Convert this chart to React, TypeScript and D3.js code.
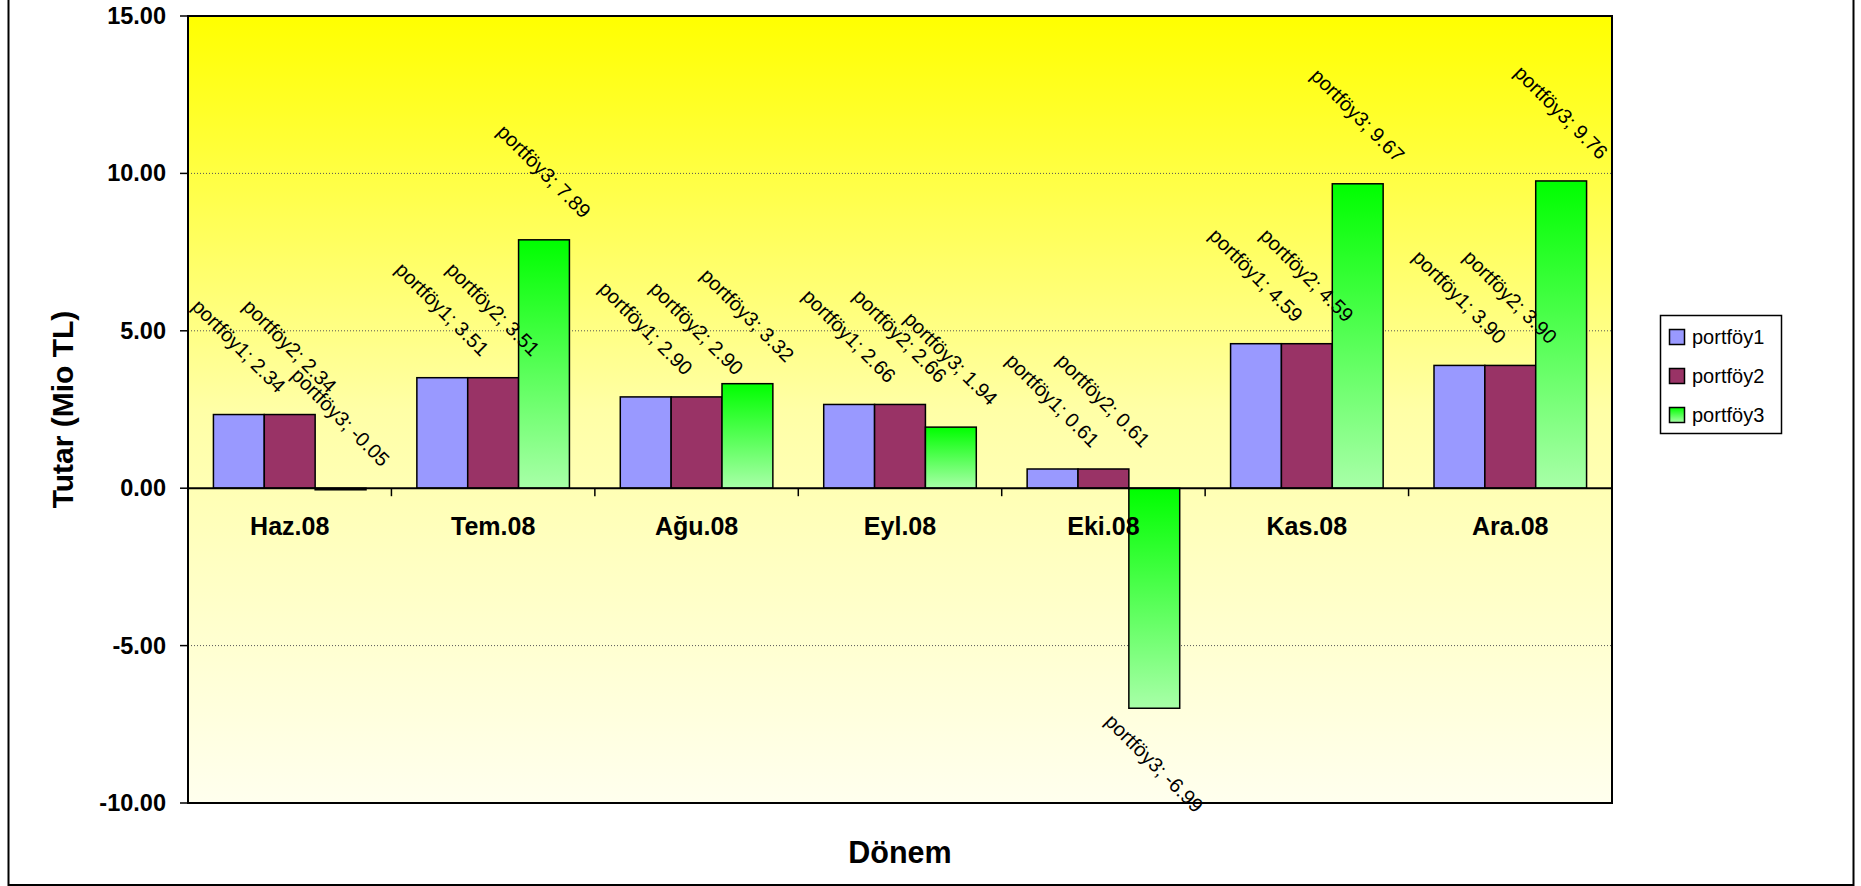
import React, { useEffect, useRef } from "react";
import * as d3 from "d3";

const categories = ["Haz.08", "Tem.08", "Ağu.08", "Eyl.08", "Eki.08", "Kas.08", "Ara.08"];
const seriesNames = ["portföy1", "portföy2", "portföy3"];
const portfoy1 = [2.34, 3.51, 2.9, 2.66, 0.61, 4.59, 3.9];
const portfoy2 = [2.34, 3.51, 2.9, 2.66, 0.61, 4.59, 3.9];
const portfoy3 = [-0.05, 7.89, 3.32, 1.94, -6.99, 9.67, 9.76];
const yTicks = [15, 10, 5, 0, -5, -10];

const W = 1861;
const H = 886;
const FONT = "'Liberation Sans', Arial, Helvetica, sans-serif";

export default function App() {
  const ref = useRef<SVGSVGElement | null>(null);

  useEffect(() => {
    const svg = d3.select(ref.current);
    svg.selectAll("*").remove();

    const plot = { left: 188, right: 1612, top: 16, bottom: 803 };
    const values = [portfoy1, portfoy2, portfoy3];
    const fills = ["#9999FF", "#993366", "url(#greenGrad)"];

    const defs = svg.append("defs");
    const bg = defs.append("linearGradient").attr("id", "bgGrad")
      .attr("x1", 0).attr("y1", 0).attr("x2", 0).attr("y2", 1);
    bg.append("stop").attr("offset", "0%").attr("stop-color", "#FFFF00");
    bg.append("stop").attr("offset", "50%").attr("stop-color", "#FFFFA6");
    bg.append("stop").attr("offset", "100%").attr("stop-color", "#FFFFEE");
    const gg = defs.append("linearGradient").attr("id", "greenGrad")
      .attr("x1", 0).attr("y1", 0).attr("x2", 0).attr("y2", 1);
    gg.append("stop").attr("offset", "0%").attr("stop-color", "#00FF00");
    gg.append("stop").attr("offset", "100%").attr("stop-color", "#A8FFA8");

    // white page and outer frame
    svg.append("rect").attr("x", 0).attr("y", 0).attr("width", W).attr("height", H).attr("fill", "#fff");
    svg.append("rect").attr("x", 8.5).attr("y", -5).attr("width", 1845).attr("height", 890)
      .attr("fill", "none").attr("stroke", "#000").attr("stroke-width", 2);

    const x0 = d3.scaleBand<string>().domain(categories).range([plot.left, plot.right]).paddingInner(0).paddingOuter(0);
    const x1 = d3.scaleBand<string>().domain(seriesNames).range([0, x0.bandwidth()]).paddingInner(0).paddingOuter(0.5);
    const y = d3.scaleLinear().domain([-10, 15]).range([plot.bottom, plot.top]);

    // plot area
    svg.append("rect").attr("x", plot.left).attr("y", plot.top)
      .attr("width", plot.right - plot.left).attr("height", plot.bottom - plot.top)
      .attr("fill", "url(#bgGrad)");

    // gridlines
    svg.append("g").selectAll("line").data(yTicks.filter(t => t !== 0 && t !== 15 && t !== -10)).join("line")
      .attr("x1", plot.left).attr("x2", plot.right)
      .attr("y1", d => y(d)).attr("y2", d => y(d))
      .attr("stroke", "#555").attr("stroke-width", 1).attr("stroke-dasharray", "1,2");

    // bars
    const gBars = svg.append("g");
    categories.forEach((c, i) => {
      seriesNames.forEach((s, k) => {
        const v = values[k][i];
        const bx = (x0(c) as number) + (x1(s) as number);
        gBars.append("rect")
          .attr("x", bx).attr("width", x1.bandwidth())
          .attr("y", y(Math.max(v, 0)))
          .attr("height", Math.abs(y(v) - y(0)))
          .attr("fill", fills[k])
          .attr("stroke", "#000").attr("stroke-width", 1.5);
      });
    });

    // plot border
    svg.append("rect").attr("x", plot.left).attr("y", plot.top)
      .attr("width", plot.right - plot.left).attr("height", plot.bottom - plot.top)
      .attr("fill", "none").attr("stroke", "#000").attr("stroke-width", 2);

    // zero axis line and category ticks
    svg.append("line").attr("x1", plot.left).attr("x2", plot.right)
      .attr("y1", y(0)).attr("y2", y(0)).attr("stroke", "#000").attr("stroke-width", 2);
    svg.append("g").selectAll("line").data(categories.slice(1)).join("line")
      .attr("x1", d => x0(d) as number).attr("x2", d => x0(d) as number)
      .attr("y1", y(0)).attr("y2", y(0) + 8).attr("stroke", "#000").attr("stroke-width", 1.5);

    // value axis ticks and labels
    const gy = svg.append("g");
    gy.selectAll("line").data(yTicks).join("line")
      .attr("x1", plot.left - 8).attr("x2", plot.left)
      .attr("y1", d => y(d)).attr("y2", d => y(d))
      .attr("stroke", "#000").attr("stroke-width", 1.5);
    gy.selectAll("text").data(yTicks).join("text")
      .attr("x", 166).attr("y", d => y(d))
      .attr("text-anchor", "end").attr("dominant-baseline", "central")
      .attr("font-family", FONT).attr("font-weight", "bold").attr("font-size", 23.5)
      .text(d => d.toFixed(2));

    // category labels
    svg.append("g").selectAll("text").data(categories).join("text")
      .attr("x", d => (x0(d) as number) + x0.bandwidth() / 2).attr("y", 535)
      .attr("text-anchor", "middle")
      .attr("font-family", FONT).attr("font-weight", "bold").attr("font-size", 25)
      .text(d => d);

    // axis titles
    svg.append("text").attr("transform", `translate(73,${(plot.top + plot.bottom) / 2}) rotate(-90)`)
      .attr("text-anchor", "middle")
      .attr("font-family", FONT).attr("font-weight", "bold").attr("font-size", 30)
      .text("Tutar (Mio TL)");
    svg.append("text").attr("x", (plot.left + plot.right) / 2).attr("y", 863)
      .attr("text-anchor", "middle")
      .attr("font-family", FONT).attr("font-weight", "bold").attr("font-size", 30.5)
      .text("Dönem");

    // data labels, rotated 45°
    const fs = 20;
    const gLab = svg.append("g");
    categories.forEach((c, i) => {
      seriesNames.forEach((s, k) => {
        const v = values[k][i];
        const cx = (x0(c) as number) + (x1(s) as number) + x1.bandwidth() / 2;
        const t = gLab.append("text")
          .attr("text-anchor", "middle").attr("dominant-baseline", "central")
          .attr("font-family", FONT).attr("font-size", fs).attr("fill", "#000")
          .text(`${s}; ${v.toFixed(2)}`);
        const L = (t.node() as SVGTextElement).getComputedTextLength();
        const half = ((L + 0.9 * fs) / 2) * Math.SQRT1_2;
        const below = v < 0 && Math.abs(y(v) - y(0)) > 30;
        const cy = below ? y(v) + 3 + half : y(Math.max(v, 0)) - 19 - half;
        t.attr("transform", `translate(${cx},${cy}) rotate(45)`);
      });
    });

    // legend
    const lg = svg.append("g");
    lg.append("rect").attr("x", 1660.5).attr("y", 315.5).attr("width", 121).attr("height", 118)
      .attr("fill", "#fff").attr("stroke", "#000").attr("stroke-width", 1.5);
    seriesNames.forEach((s, k) => {
      const cyL = 337 + k * 39;
      lg.append("rect").attr("x", 1669.5).attr("y", cyL - 7.5).attr("width", 15).attr("height", 15)
        .attr("fill", fills[k]).attr("stroke", "#000").attr("stroke-width", 1.5);
      lg.append("text").attr("x", 1692).attr("y", cyL).attr("dominant-baseline", "central")
        .attr("font-family", FONT).attr("font-size", 20).text(s);
    });
  }, []);

  return (
    <svg
      ref={ref}
      width={W}
      height={H}
      style={{ position: "absolute", left: 0, top: 0, display: "block" }}
    />
  );
}
